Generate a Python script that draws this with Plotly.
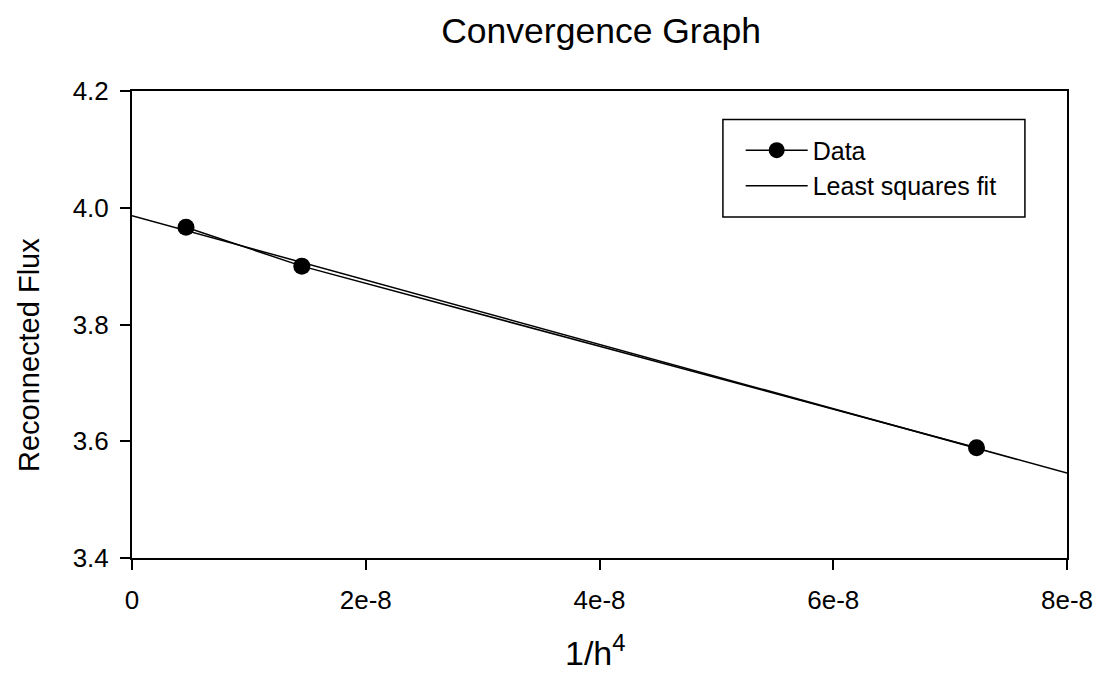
import numpy as np
import plotly.graph_objects as go

# Measured reconnected flux against 1/h^4
x_data = [4.62e-9, 1.453e-8, 7.226e-8]
y_data = [3.9665, 3.900, 3.589]

x_ticks = [0, 2e-8, 4e-8, 6e-8, 8e-8]
x_tick_text = ["0", "2e-8", "4e-8", "6e-8", "8e-8"]
y_ticks = [3.4, 3.6, 3.8, 4.0, 4.2]
y_tick_text = ["3.4", "3.6", "3.8", "4.0", "4.2"]

# Least squares fit over the full x range
slope, intercept = np.polyfit(x_data, y_data, 1)
x_fit = [x_ticks[0], x_ticks[-1]]
y_fit = [intercept + slope * v for v in x_fit]

font_family = "Liberation Sans, Arial, sans-serif"

fig = go.Figure()
fig.add_trace(go.Scatter(
    x=x_data, y=y_data, mode="lines+markers", name="Data",
    line=dict(color="black", width=1.5),
    marker=dict(color="black", size=17),
))
fig.add_trace(go.Scatter(
    x=x_fit, y=y_fit, mode="lines", name="Least squares fit",
    line=dict(color="black", width=1.5),
))

axis_common = dict(
    showgrid=False, zeroline=False, showline=True, linecolor="black",
    linewidth=2, mirror=True, ticks="outside", ticklen=10, tickwidth=2,
    tickcolor="black", tickfont=dict(size=26, color="black", family=font_family),
)

fig.update_xaxes(
    range=[x_ticks[0], x_ticks[-1]], tickmode="array", tickvals=x_ticks,
    ticktext=x_tick_text, ticklabelstandoff=8,
    **axis_common,
)
fig.update_yaxes(
    range=[y_ticks[0], y_ticks[-1]], tickmode="array", tickvals=y_ticks,
    ticktext=y_tick_text, ticklabelstandoff=6,
    **axis_common,
)

# Axis titles
fig.add_annotation(text="1/h<sup>4</sup>", xref="paper", yref="paper",
                   x=0.496, y=-0.198, xanchor="center", yanchor="middle",
                   showarrow=False, font=dict(size=34, color="black", family=font_family))
fig.add_annotation(text="Reconnected Flux", xref="paper", yref="paper",
                   x=-0.1094, y=0.434, xanchor="center", yanchor="middle", textangle=-90,
                   showarrow=False, font=dict(size=29, color="black", family=font_family))

# Legend frame
fig.add_shape(type="rect", xref="paper", yref="paper",
              x0=0.632, x1=0.955, y0=0.730, y1=0.939,
              line=dict(color="black", width=1.5), fillcolor="rgba(0,0,0,0)")

fig.update_layout(
    width=1107, height=678,
    margin=dict(l=132, r=40, t=91, b=120),
    paper_bgcolor="white", plot_bgcolor="white",
    font=dict(family=font_family, color="black"),
    title=dict(text="Convergence Graph", x=0.543, xanchor="center", y=0.955, yanchor="middle",
               font=dict(size=35.5, color="black", family=font_family)),
    showlegend=True,
    legend=dict(x=0.651, y=0.922, xanchor="left", yanchor="top",
                bgcolor="rgba(0,0,0,0)", borderwidth=0,
                font=dict(size=25, color="black", family=font_family),
                itemwidth=62, tracegroupgap=0),
)

fig.write_html("out.html")
